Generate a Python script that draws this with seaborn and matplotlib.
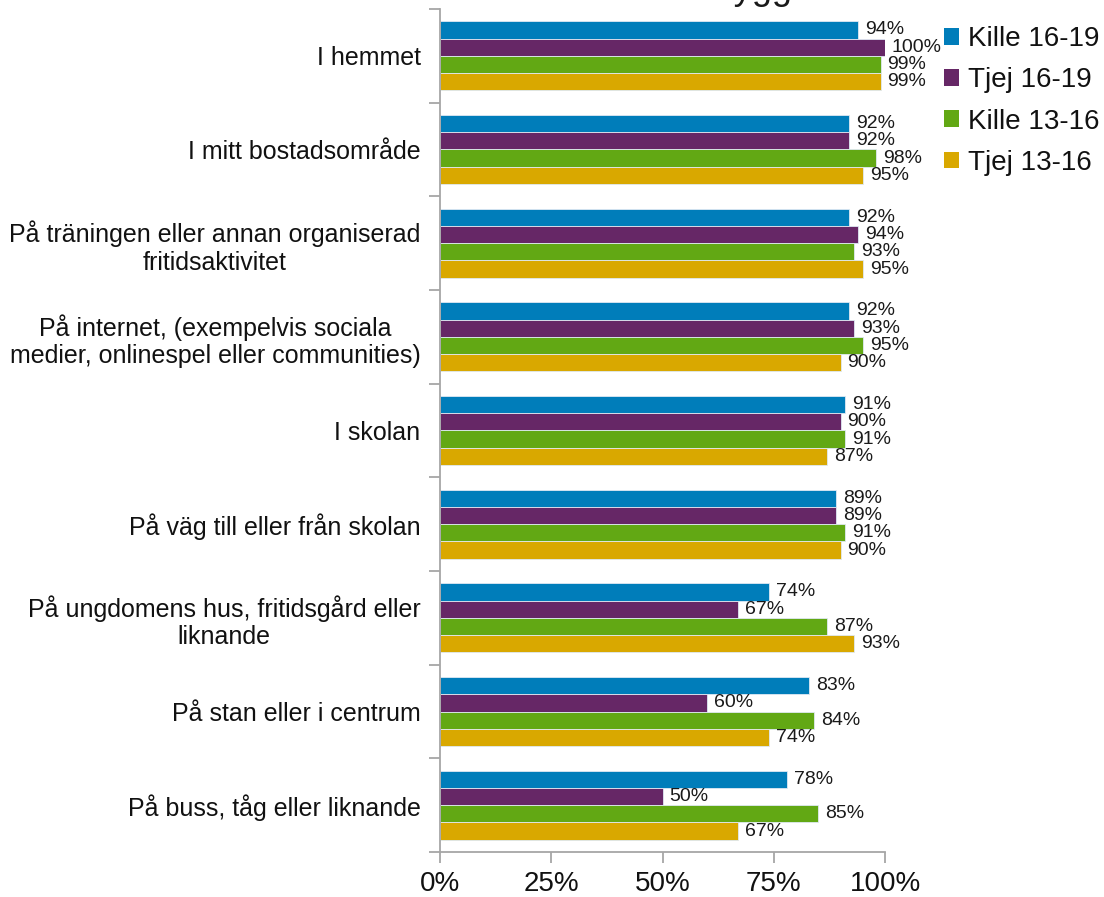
import matplotlib
matplotlib.use("Agg")
import matplotlib.pyplot as plt
from matplotlib.ticker import FixedLocator, PercentFormatter
from matplotlib.patches import Patch
import numpy as np
import pandas as pd
import seaborn as sns

# Places where young people feel safe, share answering "yes" per group (%)
categories = [
    "I hemmet",
    "I mitt bostadsområde",
    "På träningen eller annan organiserad\nfritidsaktivitet",
    "På internet, (exempelvis sociala\nmedier, onlinespel eller communities)",
    "I skolan",
    "På väg till eller från skolan",
    "På ungdomens hus, fritidsgård eller\nliknande",
    "På stan eller i centrum",
    "På buss, tåg eller liknande",
]
groups = ["Kille 16-19", "Tjej 16-19", "Kille 13-16", "Tjej 13-16"]
kille_16_19 = [94, 92, 92, 92, 91, 89, 74, 83, 78]
tjej_16_19 = [100, 92, 94, 93, 90, 89, 67, 60, 50]
kille_13_16 = [99, 98, 93, 95, 91, 91, 87, 84, 85]
tjej_13_16 = [99, 95, 95, 90, 87, 90, 93, 74, 67]
colors = ["#007DBA", "#662766", "#62A814", "#D9A800"]

series = [kille_16_19, tjej_16_19, kille_13_16, tjej_13_16]
rows = []
for g, vals in zip(groups, series):
    for c, v in zip(categories, vals):
        rows.append({"plats": c, "grupp": g, "andel": v / 100})
df = pd.DataFrame(rows)

sns.set_style("white")
plt.rcParams["font.family"] = ["Liberation Sans", "DejaVu Sans"]

fig = plt.figure(figsize=(11.04, 8.97), dpi=100)
ax = fig.add_axes([440 / 1104, 1 - 852 / 897, 445 / 1104, 843 / 897])

sns.barplot(
    data=df, y="plats", x="andel", hue="grupp", order=categories,
    hue_order=groups, palette=colors, orient="h", width=0.74, gap=0,
    edgecolor="#dfe9f3", linewidth=0.6, saturation=1, ax=ax, legend=False,
)

for cont, vals in zip(ax.containers, series):
    ax.bar_label(cont, labels=[f"{v}%" for v in vals], padding=5,
                 fontsize=14, color="#1a1a1a")

ax.set_xlim(0, 1)
ax.set_ylim(len(categories) - 0.5, -0.5)
ax.set_xlabel("")
ax.set_ylabel("")

ax.xaxis.set_major_locator(FixedLocator([0, 0.25, 0.5, 0.75, 1.0]))
ax.xaxis.set_major_formatter(PercentFormatter(1.0, decimals=0))
ax.tick_params(axis="x", length=8, width=1.3, color="#a6a6a6",
               labelsize=20, pad=6, direction="out", bottom=True,
               labelcolor="#111111")

ax.set_yticks(range(len(categories)))
ax.set_yticklabels(categories, fontsize=18, multialignment="center",
                   color="#111111")
ax.yaxis.set_minor_locator(FixedLocator(np.arange(-0.5, len(categories), 1.0)))
ax.tick_params(axis="y", which="minor", length=8, width=1.3,
               color="#a6a6a6", direction="out", left=True)
ax.tick_params(axis="y", which="major", length=0, pad=14)

for side in ("top", "right"):
    ax.spines[side].set_visible(False)
for side in ("left", "bottom"):
    ax.spines[side].set_color("#a6a6a6")
    ax.spines[side].set_linewidth(1.3)

handles = [Patch(facecolor=c, edgecolor="none") for c in colors]
fig.legend(handles, groups, loc="upper left",
           bbox_to_anchor=(944 / 1104, 1 - 26 / 897), frameon=False,
           fontsize=20, handlelength=0.55, handleheight=0.55,
           handletextpad=0.3, labelspacing=0.55, borderaxespad=0,
           borderpad=0, labelcolor="#111111")

fig.text(792 / 1104, 1 + 1 / 897, "Trygg", ha="right", va="baseline",
         fontsize=26, color="#1a1a1a")

fig.savefig("out.png", dpi=100)
